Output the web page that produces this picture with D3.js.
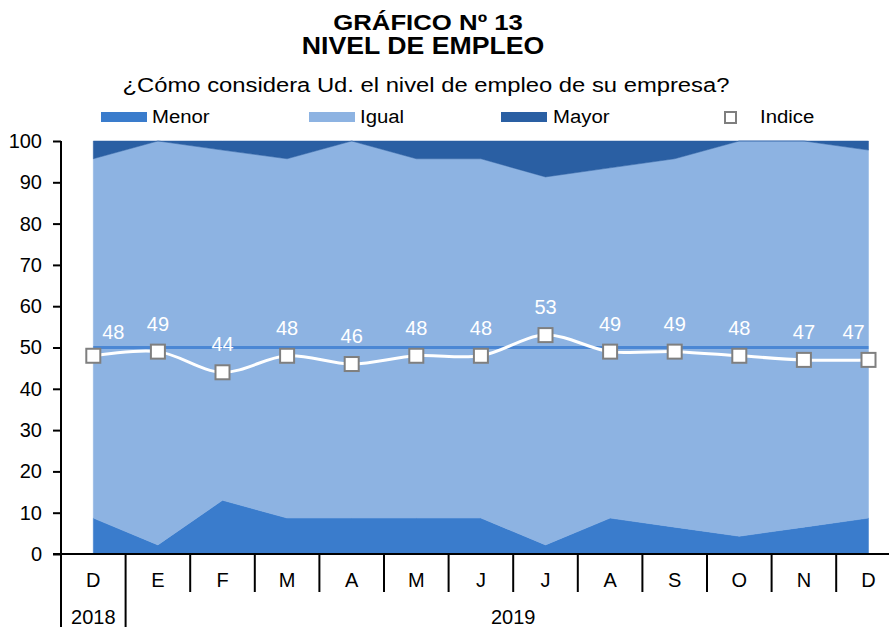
<!DOCTYPE html>
<html>
<head>
<meta charset="utf-8">
<script src="https://cdn.jsdelivr.net/npm/d3@7"></script>
<style>
  body { margin: 0; background: #fff; }
  svg text { font-family: "Liberation Sans", Arial, sans-serif; }
</style>
</head>
<body>
<svg id="chart" width="889" height="627"></svg>
<script>
// datos
var meses = ["D", "E", "F", "M", "A", "M", "J", "J", "A", "S", "O", "N", "D"];
var anios = [{label: "2018", desde: 0, hasta: 0}, {label: "2019", desde: 1, hasta: 12}];
var menor = [8.7, 2.2, 13.0, 8.7, 8.7, 8.7, 8.7, 2.2, 8.7, 6.5, 4.3, 6.5, 8.7];
var igual = [87.0, 97.8, 84.8, 87.0, 91.3, 87.0, 87.0, 89.1, 84.8, 89.2, 95.7, 93.5, 89.1];
var mayor = [4.3, 0, 2.2, 4.3, 0, 4.3, 4.3, 8.7, 6.5, 4.3, 0, 0, 2.2];
var indice = [48, 49, 44, 48, 46, 48, 48, 53, 49, 49, 48, 47, 47];
var yTicks = [0, 10, 20, 30, 40, 50, 60, 70, 80, 90, 100];

var colores = {Menor: "#3a7ccc", Igual: "#8db3e2", Mayor: "#2a5fa3"};
var lineaCincuenta = "#4b87d4";

var svg = d3.select("#chart");

var plotLeft = 61, plotBottom = 554, plotTop = 141;
var band = 64.6;

var xScale = d3.scaleBand()
	.domain(d3.range(meses.length))
	.range([plotLeft, plotLeft + band * meses.length])
	.padding(0);
var cx = function(i){ return xScale(i) + xScale.bandwidth() / 2; };

var yScale = d3.scaleLinear().domain([0, 100]).range([plotBottom, plotTop]);

// tabla para el apilado
var tabla = meses.map(function(m, i){
	return {i: i, Menor: menor[i], Igual: igual[i], Mayor: mayor[i]};
});
var series = d3.stack().keys(["Menor", "Igual", "Mayor"])(tabla);

var area = d3.area()
	.x(function(d){ return cx(d.data.i); })
	.y0(function(d){ return yScale(d[0]); })
	.y1(function(d){ return yScale(d[1]); });

var plot = svg.append("g");

plot.selectAll("path.serie")
	.data(series)
	.enter().append("path")
	.attr("class", "serie")
	.attr("d", area)
	.style("fill", function(d){ return colores[d.key]; })
	.style("stroke", function(d){ return colores[d.key]; })
	.style("stroke-width", 0.5);

// linea de referencia en 50
plot.append("line")
	.attr("x1", cx(0)).attr("x2", cx(meses.length - 1))
	.attr("y1", yScale(50)).attr("y2", yScale(50))
	.style("stroke", lineaCincuenta)
	.style("stroke-width", 3);

// indice
var linea = d3.line()
	.x(function(d, i){ return cx(i); })
	.y(function(d){ return yScale(d); })
	.curve(d3.curveCatmullRom.alpha(0.5));

plot.append("path")
	.datum(indice)
	.attr("d", linea)
	.style("fill", "none")
	.style("stroke", "#fff")
	.style("stroke-width", 3);

plot.selectAll("rect.marca")
	.data(indice)
	.enter().append("rect")
	.attr("class", "marca")
	.attr("x", function(d, i){ return cx(i) - 7; })
	.attr("y", function(d){ return yScale(d) - 7; })
	.attr("width", 14).attr("height", 14)
	.style("fill", "#fff")
	.style("stroke", "#7f7f7f")
	.style("stroke-width", 2);

plot.selectAll("text.etiqueta")
	.data(indice)
	.enter().append("text")
	.attr("class", "etiqueta")
	.attr("x", function(d, i){
		if (i == 0) return cx(i) + 20;
		if (i == indice.length - 1) return cx(i) - 15;
		return cx(i);
	})
	.attr("y", function(d, i){ return yScale(d) - (i == 0 ? 17 : 21); })
	.attr("text-anchor", "middle")
	.style("font-size", "20px")
	.style("fill", "#fff")
	.text(function(d){ return d; });

// eje y
var yAxis = d3.axisLeft(yScale).tickValues(yTicks).tickSize(8).tickPadding(11);
var gy = svg.append("g").attr("transform", "translate(" + plotLeft + ",0)").call(yAxis);
gy.select(".domain").remove();
gy.selectAll(".tick line").style("stroke", "#000").style("stroke-width", 2);
gy.selectAll(".tick text").style("font-size", "20px").style("fill", "#000")
	.style("font-family", "Liberation Sans, Arial, sans-serif");
svg.append("line")
	.attr("x1", plotLeft).attr("x2", plotLeft)
	.attr("y1", plotTop).attr("y2", 627)
	.style("stroke", "#000").style("stroke-width", 2);

// eje x
svg.append("line")
	.attr("x1", plotLeft - 8).attr("x2", 889)
	.attr("y1", plotBottom).attr("y2", plotBottom)
	.style("stroke", "#000").style("stroke-width", 2);

svg.selectAll("line.sep")
	.data(d3.range(1, meses.length))
	.enter().append("line")
	.attr("class", "sep")
	.attr("x1", function(i){ return xScale(i); })
	.attr("x2", function(i){ return xScale(i); })
	.attr("y1", plotBottom)
	.attr("y2", function(i){ return i == anios[1].desde ? 627 : 592; })
	.style("stroke", "#000").style("stroke-width", 2);

svg.selectAll("text.mes")
	.data(meses)
	.enter().append("text")
	.attr("class", "mes")
	.attr("x", function(d, i){ return cx(i); })
	.attr("y", 587)
	.attr("text-anchor", "middle")
	.style("font-size", "20px")
	.text(function(d){ return d; });

svg.selectAll("text.anio")
	.data(anios)
	.enter().append("text")
	.attr("class", "anio")
	.attr("x", function(d){ return (xScale(d.desde) + xScale(d.hasta) + xScale.bandwidth()) / 2; })
	.attr("y", 624)
	.attr("text-anchor", "middle")
	.style("font-size", "20px")
	.text(function(d){ return d.label; });

// titulos (texto algo ensanchado como en el original)
function texto(x, y, s, size, weight, sx, anchor){
	return svg.append("text")
		.attr("transform", "translate(" + x + "," + y + ") scale(" + sx + ",1)")
		.attr("text-anchor", anchor || "middle")
		.style("font-size", size + "px")
		.style("font-weight", weight)
		.text(s);
}
texto(428, 30, "GRÁFICO Nº 13", 23, "bold", 1.12);
texto(423, 54, "NIVEL DE EMPLEO", 23, "bold", 1.16);
texto(426, 92, "¿Cómo considera Ud. el nivel de empleo de su empresa?", 20, "normal", 1.19);

// leyenda
var leyenda = [
	{key: "Menor", x: 101, tx: 152},
	{key: "Igual", x: 309, tx: 360},
	{key: "Mayor", x: 501, tx: 553}
];
leyenda.forEach(function(l){
	svg.append("rect")
		.attr("x", l.x).attr("y", 112)
		.attr("width", 46).attr("height", 10)
		.style("fill", colores[l.key]);
	texto(l.tx, 123.3, l.key, 18, "normal", 1.13, "start");
});
svg.append("rect")
	.attr("x", 725).attr("y", 112)
	.attr("width", 11).attr("height", 11)
	.style("fill", "#fff")
	.style("stroke", "#7f7f7f")
	.style("stroke-width", 2);
texto(760, 123.3, "Indice", 18, "normal", 1.13, "start");
</script>
</body>
</html>
